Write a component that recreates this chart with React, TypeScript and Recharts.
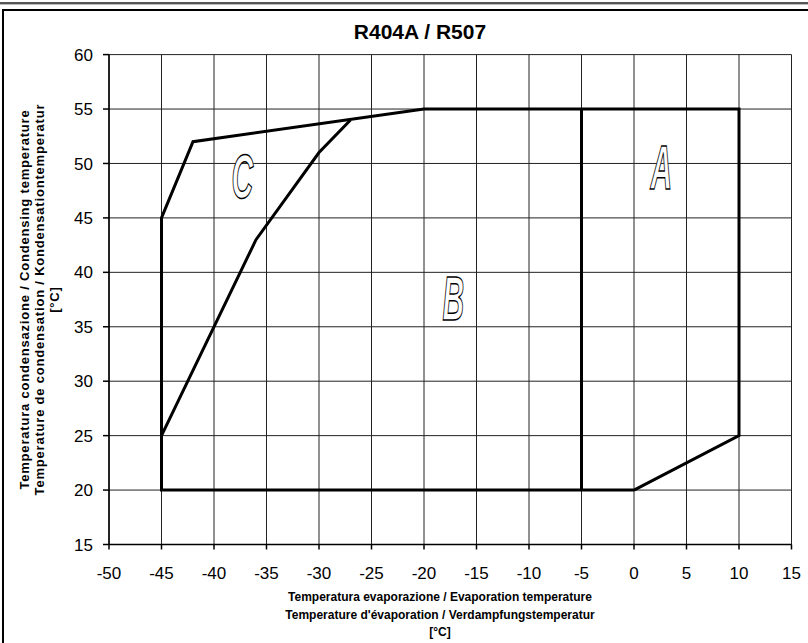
import React from 'react';
import { ComposedChart, Line, Scatter, XAxis, YAxis, CartesianGrid } from 'recharts';

// envelope outline (evaporating / condensing temperature, °C)
const outline = [
  { x: 0, y: 20 }, { x: -45, y: 20 }, { x: -45, y: 45 }, { x: -42, y: 52 },
  { x: -20, y: 55 }, { x: 10, y: 55 }, { x: 10, y: 25 }, { x: 0, y: 20 },
];
const borderAB = [{ x: -5, y: 20 }, { x: -5, y: 55 }];
const borderBC = [{ x: -45, y: 25 }, { x: -36, y: 43 }, { x: -30, y: 51 }, { x: -27, y: 54 }];
const zones = [
  { x: 2.6, y: 49.7, name: 'A' },
  { x: -17.2, y: 37.7, name: 'B' },
  { x: -37.3, y: 48.9, name: 'C' },
];
const xTicks = [-50, -45, -40, -35, -30, -25, -20, -15, -10, -5, 0, 5, 10, 15];
const yTicks = [15, 20, 25, 30, 35, 40, 45, 50, 55, 60];
const xTitle = [
  'Temperatura evaporazione / Evaporation temperature',
  "Temperature d'évaporation / Verdampfungstemperatur",
  '[°C]',
];
const yTitle = [
  'Temperatura condensazione / Condensing temperature',
  'Temperature de condensation / Kondensationtemperatur',
  '[°C]',
];

const font = '"Liberation Sans", Arial, sans-serif';

const ZoneLetter = (props: any) => {
  const { cx, cy, payload } = props;
  return (
    <text
      transform={`translate(${cx},${cy}) scale(0.5,1.05)`}
      textAnchor="middle"
      dominantBaseline="central"
      fontFamily={font}
      fontWeight="bold"
      fontStyle="italic"
      fontSize={60}
      fill="#fff"
      stroke="#000"
      strokeWidth={1.4}
    >
      {payload.name}
    </text>
  );
};

const XTitle = ({ viewBox }: any) => (
  <g>
    {xTitle.map((t, i) => (
      <text key={i} x={440} y={viewBox.y + 52.5 + i * 17.5} textAnchor="middle" dominantBaseline="central"
        fontFamily={font} fontWeight="bold" fontSize={12} fill="#000">{t}</text>
    ))}
  </g>
);

const YTitle = ({ viewBox }: any) => {
  const cy = viewBox.y + viewBox.height / 2;
  return (
    <g>
      {yTitle.map((t, i) => (
        <text key={i} x={25 + i * 15} y={cy} transform={`rotate(-90, ${25 + i * 15}, ${cy})`}
          textAnchor="middle" dominantBaseline="central" letterSpacing={0.8}
          fontFamily={font} fontWeight="bold" fontSize={13} fill="#000">{t}</text>
      ))}
    </g>
  );
};

export default function App() {
  return (
    <div style={{ position: 'absolute', left: 0, top: 0, width: 808, height: 643, background: '#fff', overflow: 'hidden' }}>
      <div style={{ position: 'absolute', left: 0, top: 2, width: 808, height: 2, background: '#555' }} />
      <div style={{ position: 'absolute', left: 0, top: 4, width: 808, height: 1, background: '#bbb' }} />
      <div style={{ position: 'absolute', left: 2, top: 9, width: 806, height: 640, borderTop: '2px solid #000', borderLeft: '2px solid #000' }} />
      <div style={{ position: 'absolute', left: 0, top: 20, width: 840, textAlign: 'center', fontFamily: font, fontWeight: 'bold', fontSize: 21, lineHeight: '24px' }}>
        R404A / R507
      </div>
      <div style={{ position: 'absolute', left: 0, top: 0 }}>
        <ComposedChart width={808} height={643} margin={{ top: 54.6, right: 16.5, bottom: 68.5, left: 49 }}>
          <CartesianGrid stroke="#222" strokeWidth={1} horizontalValues={yTicks} verticalValues={xTicks} />
          <XAxis type="number" dataKey="x" domain={[-50, 15]} ticks={xTicks} interval={0} height={30}
            allowDataOverflow stroke="#000" strokeWidth={1.5} tickSize={5} tickMargin={17.5}
            tick={{ fill: '#000', fontSize: 17, fontFamily: font }} label={<XTitle />} />
          <YAxis type="number" dataKey="y" domain={[15, 60]} ticks={yTicks} interval={0} width={60}
            allowDataOverflow stroke="#000" strokeWidth={1.5} tickSize={6} tickMargin={10}
            tick={{ fill: '#000', fontSize: 17, fontFamily: font }} label={<YTitle />} />
          <Line data={outline} dataKey="y" stroke="#000" strokeWidth={3} dot={false} isAnimationActive={false} strokeLinejoin="miter" />
          <Line data={borderAB} dataKey="y" stroke="#000" strokeWidth={3} dot={false} isAnimationActive={false} />
          <Line data={borderBC} dataKey="y" stroke="#000" strokeWidth={3} dot={false} isAnimationActive={false} />
          <Scatter data={zones} dataKey="y" shape={<ZoneLetter />} isAnimationActive={false} />
        </ComposedChart>
      </div>
    </div>
  );
}
